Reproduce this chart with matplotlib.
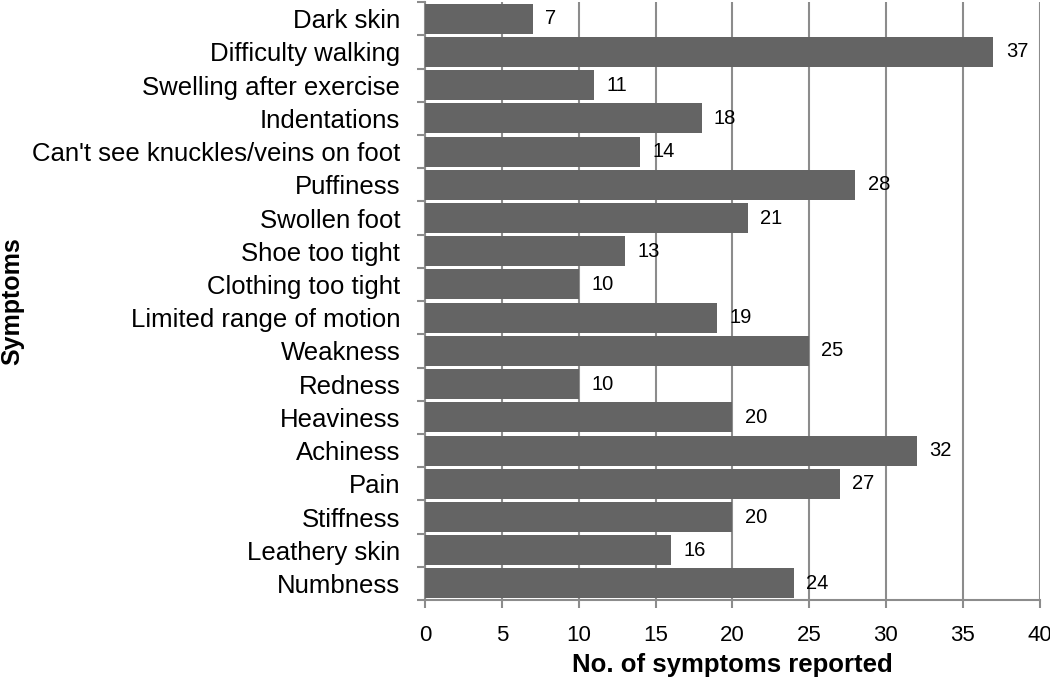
import numpy as np
import matplotlib.pyplot as plt

plt.rcParams['font.family'] = ['Liberation Sans', 'DejaVu Sans']

# symptoms, top to bottom
symptoms = ['Dark skin', 'Difficulty walking', 'Swelling after exercise', 'Indentations',
            "Can't see knuckles/veins on foot", 'Puffiness', 'Swollen foot', 'Shoe too tight',
            'Clothing too tight', 'Limited range of motion', 'Weakness', 'Redness',
            'Heaviness', 'Achiness', 'Pain', 'Stiffness', 'Leathery skin', 'Numbness']
counts = [7, 37, 11, 18, 14, 28, 21, 13, 10, 19, 25, 10, 20, 32, 27, 20, 16, 24]
xticks = [0, 5, 10, 15, 20, 25, 30, 35, 40]

grid_col = '#8c8c8c'
bar_col = '#646464'

fig = plt.figure(figsize=(10.5, 6.85), dpi=100)
ax = fig.add_axes([0.405, 0.124, 0.585, 0.873])

y = np.arange(len(symptoms))
ax.barh(y, counts, height=0.9, color=bar_col, zorder=3)
for yi, c in zip(y, counts):
    ax.text(c + 0.8, yi, str(c), va='center', ha='left', fontsize=14.5, zorder=4)

ax.set_xlim(0, 40)
ax.set_ylim(len(symptoms) - 0.5, -0.5)
ax.set_xticks(xticks)
ax.set_xticklabels([str(v) for v in xticks], fontsize=16)
ax.set_yticks(y)
ax.set_yticklabels(symptoms, fontsize=18.5)
ax.set_yticks(np.arange(len(symptoms) + 1) - 0.5, minor=True)
ax.tick_params(axis='y', which='major', length=0, pad=18)
ax.tick_params(axis='y', which='minor', length=6, color=grid_col, width=1.5)
ax.tick_params(axis='x', length=6, color=grid_col, width=1.5, pad=12)

ax.grid(axis='x', color=grid_col, linewidth=1.5, zorder=0)
for s in ['top', 'right']:
    ax.spines[s].set_visible(False)
for s in ['left', 'bottom']:
    ax.spines[s].set_color(grid_col)
    ax.spines[s].set_linewidth(1.5)

ax.set_xlabel('No. of symptoms reported', fontsize=18.5, fontweight='bold', labelpad=5)
fig.text(12 / 1050, 0.124 + 0.873 / 2, 'Symptoms', rotation=90, fontsize=18,
         fontweight='bold', ha='center', va='center')

fig.savefig('out.png', dpi=100)
